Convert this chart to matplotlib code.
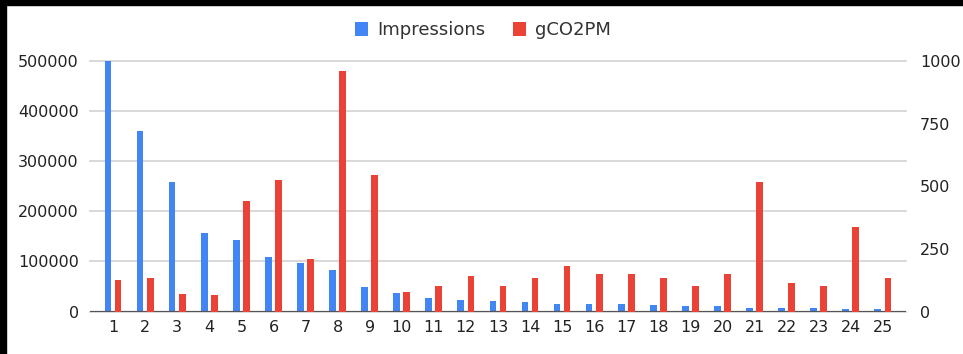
import matplotlib.pyplot as plt
import numpy as np

# data
categories = [str(i) for i in range(1, 26)]
impressions = [500000, 361000, 258000, 156000, 142000, 108000, 96000, 82000, 48000, 36500,
               27000, 22000, 21000, 18500, 15000, 15000, 14000, 12000, 10000, 10000,
               6500, 6000, 6000, 4000, 4000]
gco2pm = [127, 133, 71, 67, 440, 524, 211, 960, 544, 77,
          101, 140, 101, 133, 180, 151, 151, 133, 101, 151,
          517, 115, 101, 337, 133]
left_ticks = [0, 100000, 200000, 300000, 400000, 500000]
right_ticks = [0, 250, 500, 750, 1000]

blue = "#4285F4"
red = "#EA4335"
font_size = 11.5

plt.rcParams['font.family'] = ['DejaVu Sans']

fig = plt.figure(figsize=(9.63, 3.54), dpi=100)
fig.patch.set_facecolor("white")

# black border strips on the left and top edges of the screenshot
fig.patches.append(plt.Rectangle((0, 0), 6 / 963, 1, transform=fig.transFigure, color="black", zorder=0))
fig.patches.append(plt.Rectangle((0, 1 - 5 / 354), 1, 5 / 354, transform=fig.transFigure, color="black", zorder=0))

ax = fig.add_axes([90 / 963, 42.5 / 354, 816 / 963, 250.5 / 354])
ax2 = ax.twinx()

x = np.arange(1, len(categories) + 1)
b1 = ax.bar(x - 0.16, impressions, width=0.21, color=blue, label="Impressions", zorder=3)
b2 = ax2.bar(x + 0.155, gco2pm, width=0.21, color=red, label="gCO2PM", zorder=3)

ax.set_xlim(0.28, 25.72)
ax.set_ylim(0, 500000)
ax2.set_ylim(0, 1000)
ax.set_yticks(left_ticks)
ax.set_yticklabels([str(t) for t in left_ticks])
ax2.set_yticks(right_ticks)
ax2.set_yticklabels([str(t) for t in right_ticks])
ax.set_xticks(x)
ax.set_xticklabels(categories)

ax.grid(axis="y", color="#d6d6d6", linewidth=1.3, zorder=0)
for line in ax.get_ygridlines():
    line.set_clip_on(False)
ax.set_axisbelow(True)
ax.axhline(0, color="#555555", linewidth=1.6, zorder=4)

for a in (ax, ax2):
    for s in a.spines.values():
        s.set_visible(False)
    a.tick_params(length=0, labelsize=font_size, colors="#222222")
ax.tick_params(axis="y", pad=8)
ax2.tick_params(axis="y", pad=10)
ax.tick_params(axis="x", pad=6)

fig.legend(handles=[b1, b2], labels=["Impressions", "gCO2PM"], loc="center",
           bbox_to_anchor=(483 / 963, 1 - 30 / 354), ncol=2, frameon=False,
           fontsize=13, handlelength=0.75, handleheight=0.8,
           columnspacing=1.5, handletextpad=0.5, labelcolor="#333333")

plt.savefig("out.png", dpi=100)
